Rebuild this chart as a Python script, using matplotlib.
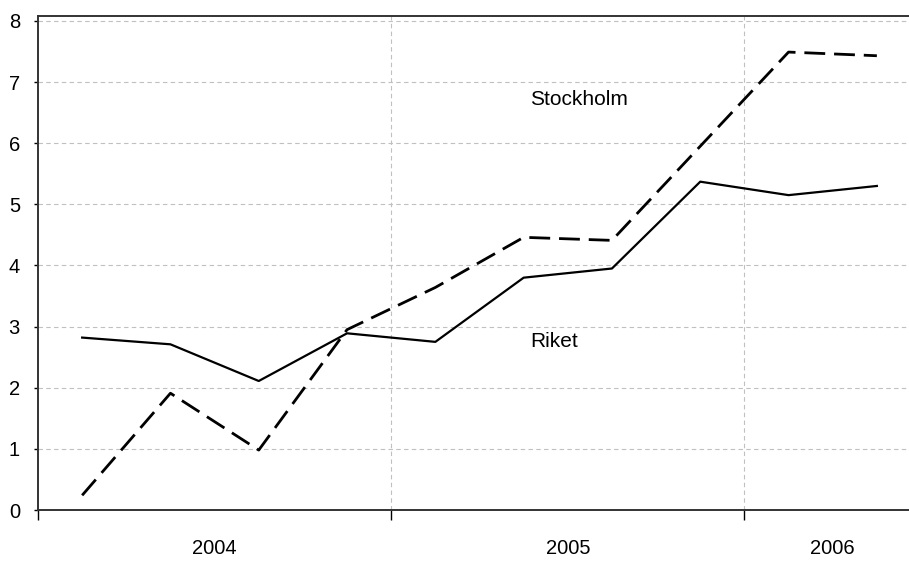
import matplotlib.pyplot as plt
import numpy as np

plt.rcParams['font.family'] = ['Liberation Sans', 'DejaVu Sans']

# kvartal 2004 Q1 - 2006 Q2
years = ['2004', '2005', '2006']
quarters_per_year = [4, 4, 2]
riket = [2.82, 2.71, 2.11, 2.89, 2.75, 3.80, 3.95, 5.37, 5.15, 5.30]
stockholm = [0.24, 1.91, 0.98, 2.95, 3.64, 4.46, 4.41, 5.95, 7.49, 7.43]

x = np.arange(len(riket)) + 0.5

fig = plt.figure(figsize=(9.09, 5.67), dpi=100)
ax = fig.add_axes([38/909, 57/567, 883/909, 494/567])

ax.plot(x, riket, color='black', lw=1.6)
ax.plot(x, stockholm, color='black', lw=2.0, dashes=(7.5, 3.2))

ax.text(5.57, 6.72, 'Stockholm', fontsize=15, ha='left', va='center')
ax.text(5.57, 2.76, 'Riket', fontsize=15, ha='left', va='center')

bounds = np.concatenate([[0], np.cumsum(quarters_per_year)])
ax.set_xlim(0, bounds[-1])
ax.set_ylim(0, 8.08)

ax.set_xticks(bounds)
ax.set_xticklabels([])
centers = (bounds[:-1] + bounds[1:]) / 2
ax.set_xticks(centers, minor=True)
ax.set_xticklabels(years, minor=True, fontsize=14.5)
ax.tick_params(axis='x', which='minor', length=0, pad=21)
ax.tick_params(axis='x', which='major', length=7, width=1, direction='out')

ax.set_yticks(range(0, 9))
ax.tick_params(axis='y', labelsize=14.5, length=3, width=1, pad=10, direction='out')

ax.grid(True, which='major', axis='y', color='#c0c0c0', ls=(0, (4, 3)), lw=0.8)
for b in bounds[1:-1]:
    ax.axvline(b, color='#c0c0c0', ls=(0, (4, 3)), lw=0.8, zorder=0)
for s in ax.spines.values():
    s.set_color('#333333')
    s.set_linewidth(1.4)

fig.savefig('out.png', dpi=100)
